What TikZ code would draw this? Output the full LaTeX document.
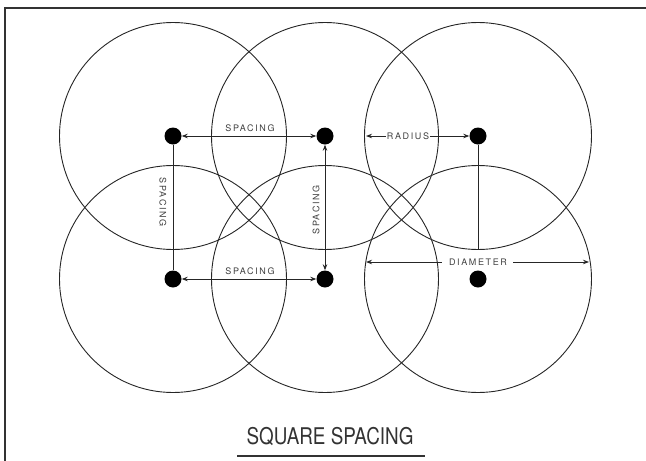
\documentclass[tikz,border=0pt]{standalone}
\usepackage{fontspec}
\setmainfont{TeX Gyre Heros}
\newfontfamily\lblfont[LetterSpace=18]{TeX Gyre Heros}
\usetikzlibrary{arrows.meta}
\begin{document}
\begin{tikzpicture}[x=1pt,y=-1pt,
  ring/.style={draw=black!85, line width=0.9pt},
  dot/.style={circle, fill=black, inner sep=0pt, minimum size=17pt},
  lbl/.style={font=\lblfont\fontsize{9}{10}\selectfont, inner sep=1pt, text=black!75},
  dim/.style={draw=black!85, line width=0.9pt},
  tip/.style={-{Stealth[length=6pt,width=4.5pt]}},
  tips/.style={{Stealth[length=6pt,width=4.5pt]}-{Stealth[length=6pt,width=4.5pt]}}
]
\useasboundingbox (0,0) rectangle (646,461);
% frame
\draw[line width=1.1pt, black!80] (5,461) -- (5,8) -- (646,8);
% circles
\foreach \n/\x/\y in {1/173/136,2/325/136,3/478/136,4/173/279,5/325/279,6/478/279}{
  \draw[ring] (\x,\y) circle (113.5);
}
% dots
\node[dot] (d1) at (173,136) {};
\node[dot] (d2) at (325,136) {};
\node[dot] (d3) at (478,136) {};
\node[dot] (d4) at (173,279) {};
\node[dot] (d5) at (325,279) {};
\node[dot] (d6) at (478,279) {};
% top spacing
\draw[dim, tips] (d1) -- (d2);
\node[lbl] (ts) at (250,128) {SPACING};
% bottom spacing
\draw[dim, tips] (d4) -- (d5);
\node[lbl] (bs) at (250,271) {SPACING};
% left vertical spacing
\draw[dim] (d1) -- (d4);
\node[lbl, rotate=-90] (ls) at (163,202) {SPACING};
% middle vertical spacing
\draw[dim, tips] (d2) -- (d5);
\node[lbl, rotate=90] (ms) at (316,210) {SPACING};
% radius
\node[lbl] (rad) at (408,136) {RADIUS};
\coordinate (re) at (366,136);
\draw[dim, tip] (rad.west) -- (re);
\draw[dim, tip] (rad.east) -- (d3);
% vertical radius line
\coordinate (rb) at (478,249);
\draw[dim] (d3) -- (rb);
% diameter
\node[lbl] (dia) at (478,262) {DIAMETER};
\coordinate (dl) at (366,262);
\coordinate (dr) at (589,262);
\draw[dim, tip] (dia.west) ++(-6,0) -- (dl);
\draw[dim, tip] (dia.east) ++(5,0) -- (dr);
% title
\node[font=\fontsize{23}{26}\selectfont, text=black!80, inner sep=0pt] (title) at (330,437) {\scalebox{0.82}[1]{SQUARE SPACING}};
\coordinate (ul) at (237,456);
\coordinate (ur) at (425,456);
\draw[line width=1.4pt, black!80] (ul) -- (ur);
\end{tikzpicture}
\end{document}
